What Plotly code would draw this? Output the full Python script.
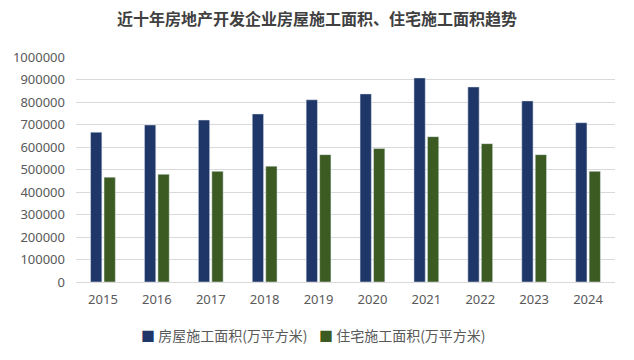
import plotly.graph_objects as go

years = ["2015", "2016", "2017", "2018", "2019", "2020", "2021", "2022", "2023", "2024"]
house_area = [666000, 698000, 720000, 747000, 810000, 836000, 907000, 867000, 805000, 708000]
residential_area = [466000, 479000, 492000, 515000, 566000, 593000, 646000, 615000, 566000, 492000]
name_house = "房屋施工面积(万平方米)"
name_res = "住宅施工面积(万平方米)"
title = "近十年房地产开发企业房屋施工面积、住宅施工面积趋势"
colors = ["#1F3768", "#3C5B22"]

fig = go.Figure()
fig.add_trace(go.Bar(x=years, y=house_area, name=name_house, marker_color=colors[0]))
fig.add_trace(go.Bar(x=years, y=residential_area, name=name_res, marker_color=colors[1]))

# legend drawn as text annotations (paper coords) to match compact spacing
legend_font = dict(family="Noto Sans CJK SC", size=14, color="#595959")
anns = []
for name, col, xsq in [(name_house, colors[0], 139), (name_res, colors[1], 317)]:
    anns.append(dict(xref="paper", yref="paper", x=(xsq - 76) / 539, y=(282 - 335) / 225,
                     xanchor="left", yanchor="middle", showarrow=False,
                     text=f"<span style='color:{col}'>■</span> {name}", font=legend_font))

fig.update_layout(
    width=634, height=360,
    paper_bgcolor="white", plot_bgcolor="white",
    margin=dict(l=76, r=19, t=57, b=78, autoexpand=False),
    barmode="group", bargap=0.5, bargroupgap=0.16,
    title=dict(text=title, x=0.5, xanchor="center", y=0.945, yanchor="middle",
               font=dict(family="Noto Sans CJK SC", size=16, color="#404040", weight="bold")),
    font=dict(family="Noto Sans, Noto Sans CJK SC", color="#595959", size=13),
    showlegend=False,
    annotations=anns,
)
fig.update_yaxes(range=[0, 1000000], dtick=100000, tickformat="d", automargin=False,
                 gridcolor="#D9D9D9", gridwidth=1, zeroline=False,
                 showline=False, ticks="", ticklabelstandoff=10,
                 tickfont=dict(size=13, color="#595959"))
fig.update_xaxes(showline=True, linecolor="#D9D9D9", linewidth=1, ticks="", automargin=False,
                 ticklabelstandoff=5,
                 tickfont=dict(size=13, color="#595959"))

fig.write_html("out.html", config={"displayModeBar": False},
               post_script="document.body.style.margin='0';")
